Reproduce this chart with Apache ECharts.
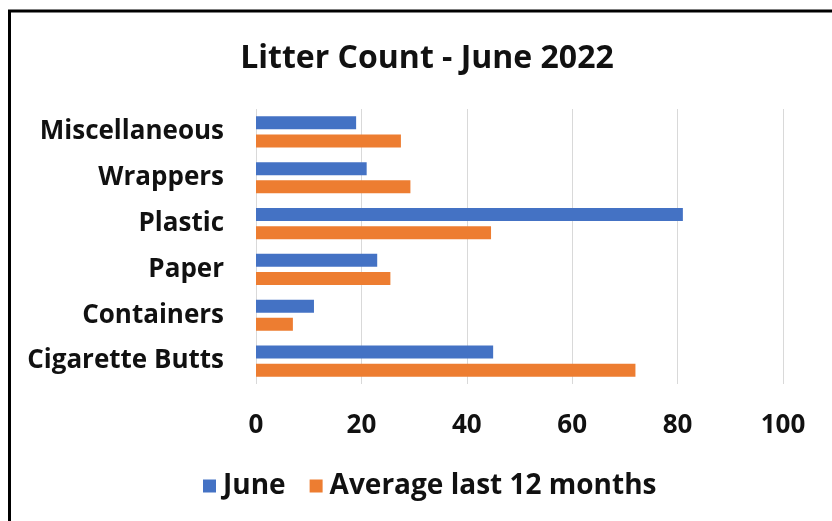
<!DOCTYPE html>
<html>
<head>
<meta charset="utf-8">
<script src="https://cdn.jsdelivr.net/npm/echarts@6/dist/echarts.min.js"></script>
<style>html,body{margin:0;padding:0;background:#fff}#c{width:832px;height:521px}</style>
</head>
<body>
<div id="c"></div>
<script>
const categories = ['Cigarette Butts','Containers','Paper','Plastic','Wrappers','Miscellaneous'];
const juneValues = [45, 11, 23, 81, 21, 19];
const averageValues = [72, 7, 25.5, 44.6, 29.3, 27.5];
const xTicks = [0, 20, 40, 60, 80, 100];
const seriesNames = ['June', 'Average last 12 months'];

const FONT = '"Open Sans"';
const chart = echarts.init(document.getElementById('c'));
chart.setOption({
  animation: false,
  backgroundColor: '#fff',
  title: {
    text: 'Litter Count - June 2022',
    left: 422, top: 38, textAlign: 'center',
    textStyle: {fontFamily: FONT, fontWeight: 'bold', fontSize: 32, color: '#111'}
  },
  legend: {
    data: seriesNames,
    left: 198, top: 467,
    itemWidth: 13, itemHeight: 13, itemGap: 24,
    icon: 'rect',
    textStyle: {fontFamily: FONT, fontWeight: 'bold', fontSize: 28, color: '#111', padding: [0, 0, 0, 2]}
  },
  grid: {left: 256, right: 49, top: 109, bottom: 137, containLabel: false},
  xAxis: {
    type: 'value', min: xTicks[0], max: xTicks[xTicks.length-1], interval: 20,
    axisLine: {show: false}, axisTick: {show: false},
    splitLine: {lineStyle: {color: '#d9d9d9', width: 1}},
    axisLabel: {margin: 29, fontFamily: FONT, fontWeight: 'bold', fontSize: 26, color: '#111'}
  },
  yAxis: {
    type: 'category', data: categories,
    axisLine: {show: false}, axisTick: {show: false},
    axisLabel: {margin: 32, fontFamily: FONT, fontWeight: 'bold', fontSize: 26, color: '#111'}
  },
  series: [
    {name: seriesNames[0], type: 'bar', data: juneValues, barWidth: 13, barGap: '40%', itemStyle: {color: '#4472C4'}},
    {name: seriesNames[1], type: 'bar', data: averageValues, barWidth: 13, barGap: '40%', itemStyle: {color: '#ED7D31'}}
  ],
  graphic: [
    {type: 'line', shape: {x1: 8, y1: 11, x2: 832, y2: 11}, style: {stroke: '#000', lineWidth: 3}},
    {type: 'line', shape: {x1: 9.5, y1: 10, x2: 9.5, y2: 521}, style: {stroke: '#000', lineWidth: 3}}
  ]
});
</script>
</body>
</html>
